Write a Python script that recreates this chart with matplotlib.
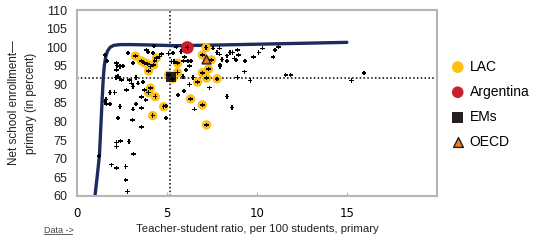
import numpy as np
import matplotlib.pyplot as plt

# fitted frontier
curve_x = [1.0, 1.12, 1.25, 1.33, 1.40, 1.46, 1.52, 1.60, 1.70, 1.85, 2.05, 2.4, 3.0, 4.0, 5.5, 8.0, 11.0, 15.0]
curve_y = [60, 65, 71, 79, 86, 91.5, 95, 97.5, 99.0, 100.0, 100.5, 100.7, 100.7, 100.6, 100.4, 100.6, 100.9, 101.3]

# all countries (small black marks)
all_x = [1.22, 1.55, 1.68, 1.61, 1.55, 1.64, 1.83, 1.83, 2.10, 2.20, 2.23, 2.20, 2.38, 2.16, 2.38, 2.47,
         2.84, 3.12, 2.56, 2.93, 3.03, 3.39, 3.67, 3.12, 2.75, 3.76, 2.38, 3.12, 3.58, 3.82, 3.58, 3.27,
         2.29, 3.08, 3.58, 2.20, 2.20, 2.42, 2.90, 3.15, 1.92, 2.20, 2.71, 2.71, 2.80, 3.86, 3.95, 4.28,
         4.22, 4.32, 4.59, 4.69, 3.27, 2.29, 4.96, 4.96, 5.33, 5.37,
         5.52, 5.24, 5.42, 5.61, 5.09,
         5.79, 5.98, 5.92, 6.16, 6.35, 6.07, 6.26, 5.89, 6.44, 6.26, 5.96, 6.53, 7.36, 7.55, 7.92, 7.79,
         7.92, 7.96, 7.96, 8.06, 8.34, 8.51, 8.65, 8.75, 8.93, 8.97, 8.84, 8.34, 9.34, 9.30, 9.63, 8.93,
         9.80, 10.10, 10.31, 10.91, 11.00, 11.20, 8.34, 8.62, 15.26, 15.94, 11.60, 11.88]
all_y = [70.8, 97.9, 96.3, 86.0, 85.4, 84.7, 84.7, 87.8, 87.8, 95.8, 95.1, 93.9, 94.8, 91.9, 91.6, 91.2,
         98.4, 95.8, 95.0, 91.2, 90.3, 90.3, 90.7, 89.4, 88.5, 88.5, 84.0, 83.3, 83.6, 85.8, 86.6, 84.7,
         81.0, 80.4, 78.5, 74.4, 73.3, 74.8, 74.6, 71.3, 68.4, 67.5, 67.9, 64.3, 61.2, 99.2, 98.7, 100.3,
         98.4, 96.3, 97.5, 98.2, 91.9, 92.1, 84.2, 81.0, 98.4, 96.1,
         100.1, 96.1, 96.1, 87.2, 98.3,
         98.8, 97.3, 96.3, 96.3, 96.3, 93.9, 95.0, 92.1, 91.9, 90.0, 88.2, 83.3, 89.1, 99.7, 99.7, 98.6,
         98.1, 95.2, 94.8, 96.7, 97.7, 98.6, 98.6, 97.0, 99.2, 97.9, 96.6, 96.3, 96.3, 93.4, 91.0, 91.9,
         97.3, 98.6, 99.7, 97.3, 99.2, 100.1, 86.7, 83.8, 91.0, 93.0, 92.5, 92.5]

# Latin America and Caribbean
lac_x = [3.25, 3.58, 3.76, 3.93, 4.08, 3.98, 4.26, 4.41, 4.08, 3.98, 4.35, 4.82, 4.21, 5.09,
         5.31, 5.59, 5.59, 6.31, 6.97, 7.18, 6.97, 7.47, 7.31, 6.97, 7.20, 6.70, 7.79, 7.20]
lac_y = [97.6, 96.3, 95.8, 95.5, 94.8, 93.6, 95.2, 97.1, 89.0, 87.8, 86.7, 84.0, 81.6, 92.5,
         91.5, 95.7, 93.2, 86.1, 84.5, 99.9, 97.9, 96.6, 94.1, 93.1, 91.7, 90.6, 91.5, 79.1]

arg_x, arg_y = [6.13], [99.9]
em_x, em_y = [5.22], [92.0]
oecd_x, oecd_y = [7.18], [96.8]

# averages (dotted lines)
avg_ratio = 5.15
avg_enrol = 91.8

plt.rcParams['font.family'] = ['Liberation Sans', 'DejaVu Sans']

fig = plt.figure(figsize=(5.42, 2.41), dpi=100)
ax = fig.add_axes([0.142, 0.187, 0.664, 0.7715])

ax.axvline(avg_ratio, color='black', ls=(0, (1, 1.5)), lw=1.1, zorder=1)
ax.axhline(avg_enrol, color='black', ls=(0, (1, 1.5)), lw=1.1, zorder=1)

ax.plot(curve_x, curve_y, color='#1d2b5e', lw=2.4, solid_capstyle='round', zorder=2)

ax.scatter(lac_x, lac_y, s=45, color='#fcbf12', edgecolors='none', zorder=3)
ax.scatter(arg_x, arg_y, s=85, color='#c8202f', edgecolors='none', zorder=4)
ax.scatter(em_x, em_y, s=45, marker='s', color='#231f20', edgecolors='none', zorder=4)
ax.scatter(oecd_x, oecd_y, s=40, marker='^', color='#ee7d22', edgecolors='#231f20', linewidths=1.0, zorder=4)

ax.scatter(all_x, all_y, s=10, marker='P', color='black', edgecolors='none', zorder=5)
ax.scatter(lac_x + arg_x, lac_y + arg_y, s=10, marker='P', color='black', edgecolors='none', zorder=5)

ax.set_xlim(0, 20)
ax.set_ylim(60, 110)
ax.set_xticks([0, 5, 10, 15])
ax.set_yticks(np.arange(60, 111, 5))
for sp in ax.spines.values():
    sp.set_color('#b5b5b5')
    sp.set_linewidth(1.5)
ax.tick_params(axis='y', length=0, pad=7, labelsize=9, labelcolor='#231f20')
ax.tick_params(axis='x', direction='in', length=3, color='#b5b5b5', pad=8, labelsize=8.5)
for lab in ax.get_xticklabels():
    lab.set_family('DejaVu Sans')

ax.set_xlabel('Teacher-student ratio, per 100 students, primary', fontsize=8.2, color='#231f20', labelpad=3)
ax.set_ylabel('Net school enrollment—\nprimary (in percent)', fontsize=8.4, color='#231f20',
              labelpad=7, linespacing=1.45)

h1 = ax.scatter([], [], s=70, color='#fcbf12', edgecolors='none')
h2 = ax.scatter([], [], s=70, color='#c8202f', edgecolors='none')
h3 = ax.scatter([], [], s=60, marker='s', color='#231f20', edgecolors='none')
h4 = ax.scatter([], [], s=50, marker='^', color='#ee7d22', edgecolors='#231f20', linewidths=1.0)
fig.legend([h1, h2, h3, h4], ['LAC', 'Argentina', 'EMs', 'OECD'], loc='upper left',
           bbox_to_anchor=(0.815, 0.775), frameon=False, fontsize=10, handletextpad=0.1,
           labelspacing=0.8, borderaxespad=0, handlelength=1.5)

fig.text(0.081, 0.035, 'Data ->', fontsize=6.5, color='#444444')
fig.add_artist(plt.Line2D([0.081, 0.133], [0.028, 0.028], color='#444444', lw=0.6))

fig.savefig('out.png', dpi=100)
